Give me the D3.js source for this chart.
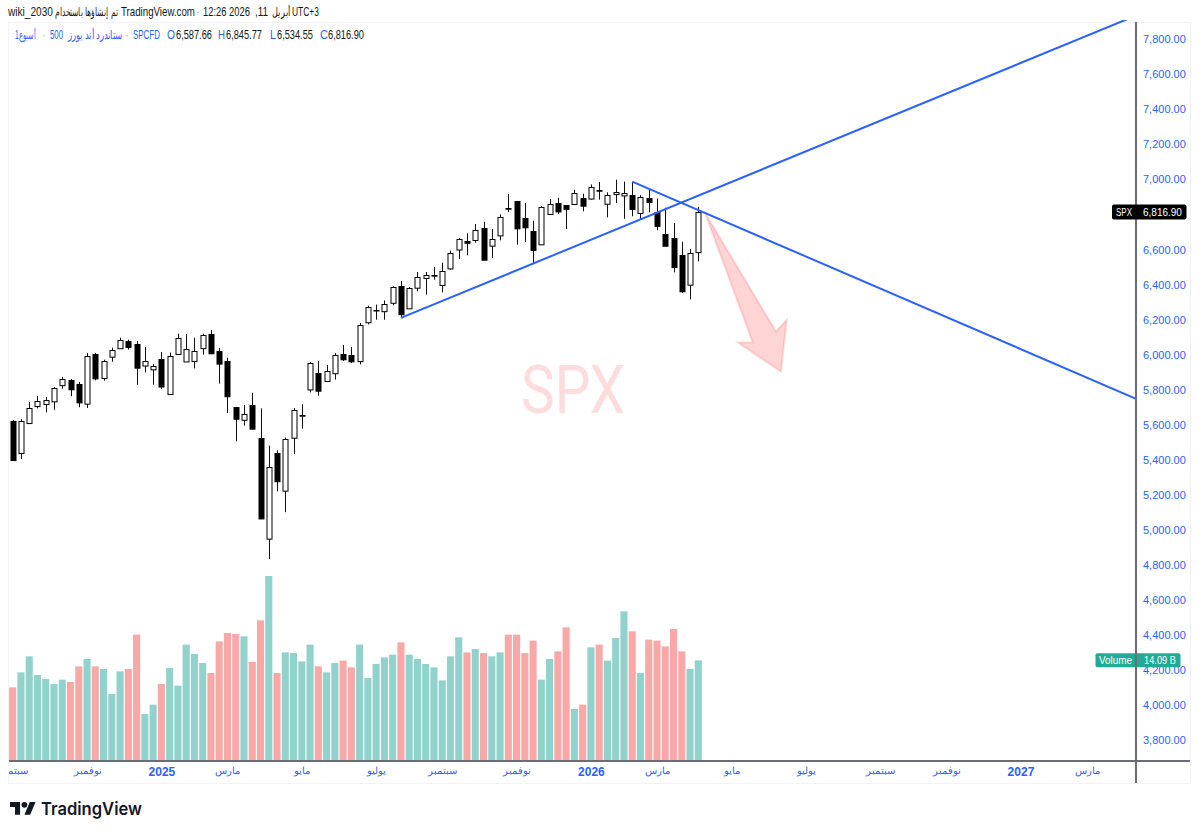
<!DOCTYPE html>
<html>
<head>
<meta charset="utf-8">
<script src="https://cdn.jsdelivr.net/npm/d3@7"></script>
<style>
html, body { margin: 0; padding: 0; background: #fff; overflow: hidden; }
text { font-family: "Liberation Sans", Arial, sans-serif; }
</style>
</head>
<body>
<div id="chart"></div>
<script>
// weekly SPX candles
var opens = [5626,5441,5612,5707,5723,5738,5827,5856,5833,5723,6004,5869,5989,6037,6080,6061,5938,5919,5979,5778,6008,5966,5966,6040,6118,6023,5966,5704,5631,5713,5529,4952,5441,5228,5527,5654,5804,5900,5850,5894,6004,6000,5966,6189,6257,6252,6297,6394,6269,6385,6442,6453,6400,6493,6600,6651,6655,6727,6622,6683,6841,6879,6780,6708,6632,6807,6870,6854,6862,6898,6891,6944,6862,6919,6913,6912,6813,6898,6816,6693,6670,6571,6400,6587.66];
var highs = [5628,5635,5732,5766,5761,5816,5875,5863,5846,6012,6012,5974,6042,6099,6088,6080,6046,5949,6017,6014,6122,6120,6099,6122,6143,6040,5985,5704,5715,5785,5696,5483,5456,5529,5698,5719,5959,5966,5943,6012,6057,6046,6183,6282,6288,6312,6392,6423,6389,6474,6474,6503,6527,6596,6666,6695,6748,6761,6719,6803,6919,6879,6868,6767,6849,6891,6898,6856,6944,6921,6974,6988,6929,7001,6990,6988,6913,6948,6893,6841,6754,6647,6605,6845.77];
var lows = [5400,5407,5609,5696,5673,5688,5808,5765,5702,5698,5856,5854,5962,6035,6031,5831,5901,5831,5806,5776,6006,5964,5924,6002,6006,5837,5669,5508,5597,5576,5070,4836,5222,5103,5435,5580,5787,5768,5848,5860,5966,5955,5947,6175,6202,6202,6284,6212,6267,6364,6345,6430,6358,6487,6548,6569,6641,6544,6554,6655,6816,6630,6645,6520,6630,6799,6805,6719,6858,6820,6887,6887,6786,6868,6778,6792,6773,6815,6712,6621,6472,6356,6318,6534.55];
var closes = [5403,5624,5698,5736,5746,5814,5862,5803,5728,5995,5865,5966,6027,6084,6046,5926,5964,5938,5822,5995,6099,6037,6023,6115,6008,5951,5765,5637,5664,5578,5070,5361,5280,5523,5685,5658,5955,5799,5907,5998,5974,5964,6172,6276,6259,6293,6387,6233,6385,6446,6459,6457,6480,6581,6660,6641,6712,6546,6660,6788,6837,6723,6727,6600,6845,6864,6822,6832,6925,6854,6957,6940,6912,6931,6927,6832,6904,6875,6737,6626,6504,6364,6581,6816.90];
var volumes = [10.31,12.41,14.65,12.04,11.48,10.78,11.39,11.06,13.25,14.28,13.25,12.88,9.38,12.55,12.88,17.69,6.58,7.89,10.78,13.02,10.55,16.29,14.98,13.72,12.32,16.75,17.92,17.78,17.45,13.86,19.69,25.9,12.32,15.21,15.12,13.95,16.29,13.25,12.41,13.72,14.05,13.11,16.29,11.62,13.58,14.51,14.89,16.61,14.89,14.28,13.58,13.11,11.29,14.65,17.31,15.21,15.68,15.12,14.65,15.21,17.69,17.69,15.12,16.85,11.39,14.28,15.35,18.71,7.28,7.89,15.91,16.29,14.05,17.22,20.95,18.15,12.32,16.99,16.85,16.05,18.48,15.35,12.88,14.09];

// 6,800.00 sits behind the last price label, so it is left out
var priceTicks = [7800,7600,7400,7200,7000,6600,6400,6200,6000,5800,5600,5400,5200,5000,4800,4600,4400,4200,4000,3800];

var timeTickIdx = [0,9,18,26,35,44,52,61,70,78,87,96,105,113,122,130];
var timeTickLabels = ['سبتمبر','نوفمبر','2025','مارس','مايو','يوليو','سبتمبر','نوفمبر','2026','مارس','مايو','يوليو','سبتمبر','نوفمبر','2027','مارس'];

// drawings, as [week index, price]
var trendUp = [[47,6212],[136,7938]];
var trendDown = [[75,6990],[136,5750]];
var arrowPts = [[83.8,6813],[92.4,6134],[93.7,6201],[93.0,5906],[87.8,6071],[89.6,6071]];

var lastPrice = 6816.90;
var lastVolume = '14.09 B';

var headerTexts = ['wiki_2030', 'تم إنشاؤها باستخدام', 'TradingView.com', '·', '12:26 2026', ',11', 'أبريل', 'UTC+3'];
var legendTexts = ['1أسبوع', '·', '500', 'ستاندرد أند بورز', '·', 'SPCFD', 'O', 'H', 'L', 'C'];

var width = 1199, height = 834;
var pane = { left: 9, right: 1136, top: 22, bottom: 761 };

var svg = d3.select('#chart')
    .append('svg')
    .attr('width', width)
    .attr('height', height)
    .style('display', 'block');

var x_scale = d3.scaleLinear().domain([0, 83]).range([12.7, 698.3]);
var y_scale = d3.scaleLinear().domain([3800, 7800]).range([740.5, 39.7]);
var vol_scale = d3.scaleLinear().domain([0, 25.9]).range([pane.bottom, 576]);

var step = x_scale(1) - x_scale(0);
var fmt = d3.format(',.2f');
var blue = '#2962ff';
var ink = '#131722';

// squeeze a text sideways into a measured width
function fitText(sel, w) {
    var k = w / sel.node().getComputedTextLength();
    var tx = sel.attr('x'), ty = sel.attr('y');
    sel.attr('x', 0).attr('y', 0)
        .attr('transform', 'translate(' + tx + ',' + ty + ') scale(' + k + ',1)');
}

// frame
svg.append('rect')
    .attr('x', 8.5).attr('y', 22.5)
    .attr('width', 1182).attr('height', 761)
    .attr('fill', 'none')
    .attr('stroke', '#f0f3fa');

svg.append('clipPath').attr('id', 'paneClip')
    .append('rect')
    .attr('x', pane.left).attr('y', pane.top - 2)
    .attr('width', pane.right - pane.left)
    .attr('height', pane.bottom - pane.top + 2);

var plot = svg.append('g').attr('clip-path', 'url(#paneClip)');

// watermark
plot.append('text')
    .attr('x', 573).attr('y', 413)
    .attr('text-anchor', 'middle')
    .style('font-family', 'Roboto')
    .style('font-size', '67px')
    .attr('fill', '#fddcdd')
    .text('SPX')
    .call(fitText, 104);

// volume
var volW = step * 0.86;
plot.selectAll('.vol')
    .data(volumes)
    .enter()
    .append('rect')
    .attr('class', 'vol')
    .attr('x', function(d, i) { return x_scale(i) - volW / 2; })
    .attr('width', volW)
    .attr('y', function(d) { return vol_scale(d); })
    .attr('height', function(d) { return pane.bottom - vol_scale(d); })
    .attr('fill', function(d, i) { return closes[i] >= opens[i] ? '#92d2cc' : '#f8a9a7'; });

// candles
var candles = plot.selectAll('.candle')
    .data(opens)
    .enter()
    .append('g')
    .attr('class', 'candle');

candles.append('line')
    .attr('x1', function(d, i) { return Math.round(x_scale(i)) + 0.5; })
    .attr('x2', function(d, i) { return Math.round(x_scale(i)) + 0.5; })
    .attr('y1', function(d, i) { return y_scale(highs[i]); })
    .attr('y2', function(d, i) { return y_scale(lows[i]); })
    .attr('stroke', '#111');

candles.append('rect')
    .attr('x', function(d, i) { return Math.round(x_scale(i)) - 2; })
    .attr('width', 5)
    .attr('y', function(d, i) { return Math.round(y_scale(Math.max(opens[i], closes[i]))) + 0.5; })
    .attr('height', function(d, i) {
        return Math.max(0.5, Math.abs(y_scale(opens[i]) - y_scale(closes[i])));
    })
    .attr('fill', function(d, i) { return closes[i] >= opens[i] ? '#fff' : '#000'; })
    .attr('stroke', '#000');

// arrow
plot.append('polygon')
    .attr('points', arrowPts.map(function(p) {
        return x_scale(p[0]) + ',' + y_scale(p[1]);
    }).join(' '))
    .attr('fill', 'rgba(255,82,82,0.25)')
    .attr('stroke', 'rgba(255,82,82,0.2)')
    .attr('stroke-width', 2);

// trend lines
var trendLine = d3.line()
    .x(function(p) { return x_scale(p[0]); })
    .y(function(p) { return y_scale(p[1]); });

[trendUp, trendDown].forEach(function(pts) {
    plot.append('path')
        .attr('d', trendLine(pts))
        .attr('fill', 'none')
        .attr('stroke', blue)
        .attr('stroke-width', 2);
});

// price axis
var y_axis = d3.axisRight(y_scale)
    .tickValues(priceTicks)
    .tickSize(0)
    .tickPadding(7)
    .tickFormat(fmt);

var yG = svg.append('g')
    .attr('transform', 'translate(' + pane.right + ',0)')
    .call(y_axis);
yG.select('.domain').remove();
yG.selectAll('text')
    .attr('fill', blue)
    .attr('dy', '0.28em')
    .style('font-size', '11px');

// time axis
var x_axis = d3.axisBottom(x_scale)
    .tickValues(timeTickIdx)
    .tickSize(0)
    .tickPadding(6)
    .tickFormat(function(d, i) { return timeTickLabels[i]; });

svg.append('clipPath').attr('id', 'axisClip')
    .append('rect')
    .attr('x', pane.left).attr('y', pane.bottom)
    .attr('width', pane.right - pane.left)
    .attr('height', 22);

var xG = svg.append('g').attr('clip-path', 'url(#axisClip)')
    .append('g')
    .attr('transform', 'translate(0,' + pane.bottom + ')')
    .call(x_axis);
xG.select('.domain').remove();
xG.selectAll('text')
    .attr('fill', blue)
    .style('font-size', function(d, i) { return /^\d+$/.test(timeTickLabels[i]) ? '12px' : '10px'; })
    .style('font-weight', function(d, i) { return /^\d+$/.test(timeTickLabels[i]) ? 'bold' : 'normal'; });

// last volume label, the axis rule runs over it
var vy = vol_scale(volumes[volumes.length - 1]);
svg.append('rect')
    .attr('x', 1095.5).attr('y', vy - 7)
    .attr('width', 85).attr('height', 14)
    .attr('rx', 2)
    .attr('fill', '#22ab94');
svg.append('text').attr('x', 1099).attr('y', vy + 4)
    .attr('fill', '#fff').style('font-size', '10.5px').text('Volume')
    .call(fitText, 33);
svg.append('text').attr('x', 1144).attr('y', vy + 4)
    .attr('fill', '#fff').style('font-size', '10.5px').text(lastVolume)
    .call(fitText, 32);

// axis rules
svg.append('line')
    .attr('x1', pane.left).attr('x2', 1190)
    .attr('y1', pane.bottom).attr('y2', pane.bottom)
    .attr('stroke', '#6a6d78').attr('stroke-width', 2);
svg.append('line')
    .attr('x1', pane.right).attr('x2', pane.right)
    .attr('y1', pane.top).attr('y2', 783)
    .attr('stroke', '#6a6d78').attr('stroke-width', 2);

// last price label
var py = y_scale(lastPrice);
svg.append('rect')
    .attr('x', 1112).attr('y', py - 7.5)
    .attr('width', 74.5).attr('height', 15)
    .attr('rx', 2)
    .attr('fill', '#000');
svg.append('text').attr('x', 1116).attr('y', py + 4)
    .attr('fill', '#fff').style('font-size', '11px').text('SPX')
    .call(fitText, 16);
svg.append('text').attr('x', 1143).attr('y', py + 4)
    .attr('fill', '#fff').style('font-size', '11px').text(fmt(lastPrice))
    .call(fitText, 39);

// header line, pieces laid out by hand because of the mixed text direction
var headerX = [8, 55, 121, 197, 203, 255, 272, 292];
var headerW = [45, 63, 74, 2, 47, 13, 17, 27];
headerTexts.forEach(function(t, i) {
    svg.append('text')
        .attr('x', headerX[i]).attr('y', 16)
        .attr('fill', ink)
        .style('font-size', '12px')
        .text(t)
        .call(fitText, headerW[i]);
});

// legend line
var legendX = [15, 43, 50, 68, 126, 133, 167, 218, 270, 320];
var legendW = [20, 2, 13, 55, 2, 27, 8, 7, 6, 8];
legendTexts.forEach(function(t, i) {
    svg.append('text')
        .attr('x', legendX[i]).attr('y', 39)
        .attr('fill', blue)
        .style('font-size', '12px')
        .text(t)
        .call(fitText, legendW[i]);
});
var ohlcX = [176, 226, 277, 328];
[opens[83], highs[83], lows[83], closes[83]].forEach(function(v, i) {
    svg.append('text')
        .attr('x', ohlcX[i]).attr('y', 39)
        .attr('fill', ink)
        .style('font-size', '12px')
        .text(fmt(v))
        .call(fitText, 36);
});

// logo
var logo = svg.append('g')
    .attr('transform', 'translate(10,799) scale(0.72)')
    .attr('fill', ink);
logo.append('path').attr('d', 'M14 22H7V11H0V4h14v18zM28 22h-8l7.5-18h8L28 22z');
logo.append('circle').attr('cx', 20).attr('cy', 8).attr('r', 4);
svg.append('text')
    .attr('x', 41).attr('y', 815)
    .attr('fill', ink)
    .style('font-family', 'Inter')
    .style('font-weight', 600)
    .style('font-size', '17.5px')
    .text('TradingView')
    .call(fitText, 101);
</script>
</body>
</html>
